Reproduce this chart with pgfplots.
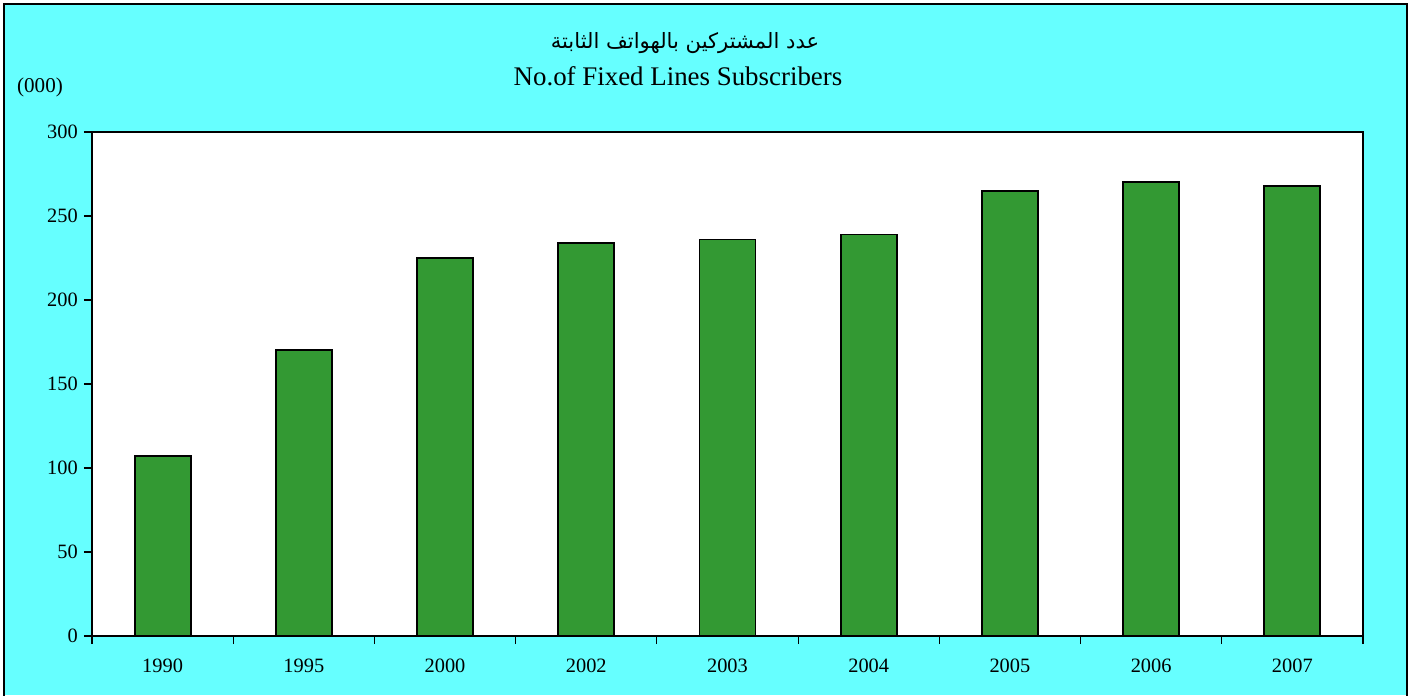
\documentclass[border=0pt]{standalone}
\usepackage{fontspec}
\setmainfont{Liberation Serif}
\newfontfamily\arabicfont[Script=Arabic]{DejaVu Sans}
\TeXXeTstate=1
\usepackage{pgfplots}
\pgfplotsset{compat=1.18}
\definecolor{bgcyan}{HTML}{66FFFF}
\definecolor{bargreen}{HTML}{339933}
\begin{document}
\begin{tikzpicture}[x=1cm,y=1cm]
\useasboundingbox (-1.84,-1.18) rectangle (26.44,12.72);
\fill[white] (-1.84,-1.18) rectangle (26.44,12.72);
\fill[bgcyan] (-1.76,-1.18) rectangle (26.30,12.64);
\draw[line width=0.04cm] (-1.76,-1.30) -- (-1.76,12.64) -- (26.30,12.64) -- (26.30,-1.30);
\node[anchor=base] at (11.86,11.76) {\arabicfont\fontsize{12}{14}\selectfont\beginR عدد المشتركين  بالهواتف الثابتة\endR};
\node[anchor=base] at (11.72,11.02) {\fontsize{15.3}{18}\selectfont No.of Fixed Lines Subscribers};
\node at (-1.04,10.98) {\fontsize{12}{14}\selectfont (000)};
\begin{axis}[
  at={(0,0)}, anchor=south west,
  scale only axis, width=25.42cm, height=10.08cm,
  xmin=-0.5, xmax=8.5, ymin=0, ymax=300,
  ytick={0,50,...,300},
  xtick={0,...,8},
  xticklabels={1990,1995,2000,2002,2003,2004,2005,2006,2007},
  minor xtick={-0.5,0.5,...,8.5},
  tick align=outside, tick pos=left,
  major tick length=0.16cm, minor tick length=0.16cm,
  every major x tick/.append style={draw=none},
  every minor x tick/.append style={black, line width=0.6pt},
  every major y tick/.append style={black, line width=0.6pt},
  axis line style={line width=0.6pt},
  axis background/.style={fill=white},
  tick label style={font=\fontsize{11.6}{14}\selectfont},
  /pgf/number format/assume math mode=true,
  xticklabel style={yshift=-0.17cm},
  ybar, bar width=1.12cm,
]
\addplot[fill=bargreen, draw=black, line width=1.1pt] coordinates {
(0,107) (1,170) (2,225) (3,234) (4,236) (5,239) (6,265) (7,270) (8,268)
};
\end{axis}
\end{tikzpicture}
\end{document}
